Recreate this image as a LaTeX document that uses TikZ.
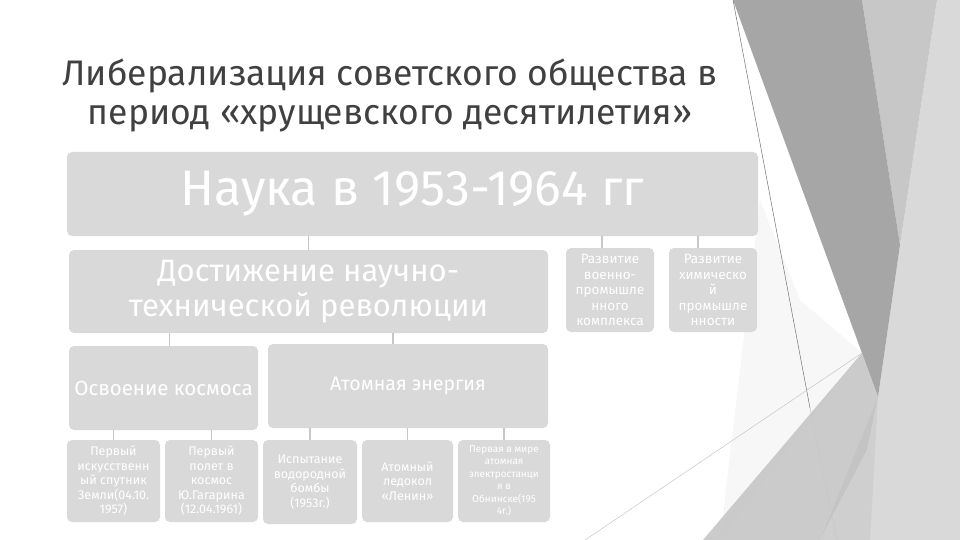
\documentclass[tikz,border=0pt]{standalone}
\usepackage{fontspec}
\setmainfont{Fira Sans}
\usetikzlibrary{calc}

\begin{document}
\begin{tikzpicture}[x=1pt, y=-1pt,
	blk/.style={fill=black!15, rounded corners=5pt, text=white, align=center, inner sep=0pt},
	link/.style={line width=1.6pt, color=black!22}]
		%%%%% START %%%%%
		\useasboundingbox (0, 0) rectangle (960, 540);
		\fill[white] (0, 0) rectangle (960, 540);
		
		% facets on the right
		\fill[color=black!15] (937, 0) -- (960, 0) -- (960, 540) -- (820, 540) -- (878, 397) -- (900, 245) -- cycle;
		\fill[color=black!22] (862, 0) -- (937, 0) -- (900, 245) -- cycle;
		\fill[color=black!3] (720, 540) -- (862, 353) -- (800, 300) -- (760, 200) -- cycle;
		\fill[color=black!35] (733, 0) -- (862, 0) -- (900, 245) -- (878, 397) -- cycle;
		\fill[color=black!25, opacity=0.8] (703, 540) -- (862, 353) -- (878, 397) -- (867, 450) -- (820, 540) -- cycle;
		\fill[color=black!19] (820, 540) -- (867, 450) -- (878, 397) -- (870, 540) -- cycle;
		\draw[line width=0.5pt, color=black!55] (733, 0) -- (810, 408);
		\draw[line width=0.5pt, color=black!22] (810, 408) -- (837, 540);
		\draw[line width=0.5pt, color=black!22] (585, 540) -- (862, 353);
		
		% title
		\node[text=black!75, align=center, font=\fontsize{35.5}{39}\selectfont] (title) at (390, 95)
			{Либерализация советского общества в\\период «хрущевского десятилетия»};
		
		% boxes
		\node[blk, minimum width=691, minimum height=84, font=\fontsize{50}{52}\selectfont] (nauka) at (412.5, 194) {Наука в 1953-1964 гг};
		\node[blk, minimum width=479, minimum height=83, font=\fontsize{31}{35}\selectfont] (ntr) at (308.5, 291.5) {Достижение научно-\\технической революции};
		\node[blk, minimum width=88, minimum height=84, font=\fontsize{13.5}{15.5}\selectfont] (voen) at (610, 290) {Развитие\\военно-\\промышле\\нного\\комплекса};
		\node[blk, minimum width=88, minimum height=84, font=\fontsize{13.5}{15.5}\selectfont] (chem) at (713, 290) {Развитие\\химическо\\й\\промышле\\нности};
		
		\node[blk, minimum width=189, minimum height=84, font=\fontsize{20.5}{24}\selectfont] (kosmos) at (163.5, 388) {Освоение космоса};
		\node[blk, minimum width=280, minimum height=84, font=\fontsize{19.5}{22}\selectfont] (atom) at (408, 386) {Атомная энергия};
		
		\node[blk, minimum width=93, minimum height=82, font=\fontsize{12.5}{14.5}\selectfont] (sputnik) at (113.5, 481) {Первый\\искусственн\\ый спутник\\Земли(04.10.\\1957)};
		\node[blk, minimum width=93, minimum height=82, font=\fontsize{12.5}{14.5}\selectfont] (gagarin) at (211.5, 481) {Первый\\полет в\\космос\\Ю.Гагарина\\(12.04.1961)};
		\node[blk, minimum width=94, minimum height=84, font=\fontsize{12.5}{14.5}\selectfont] (bomba) at (310, 482) {Испытание\\водородной\\бомбы\\(1953г.)};
		\node[blk, minimum width=91, minimum height=82, font=\fontsize{12.5}{14.5}\selectfont] (ledokol) at (407.5, 481) {Атомный\\ледокол\\«Ленин»};
		\node[blk, minimum width=92, minimum height=82, font=\fontsize{10}{12.5}\selectfont] (aes) at (504, 481) {Первая в мире\\атомная\\электростанци\\я в\\Обнинске(195\\4г.)};
		
		% connectors
		\draw[link] (nauka.south -| ntr.north) -- (ntr.north);
		\draw[link] ($(nauka.south -| voen.north)+(-8, 0)$) -- ($(voen.north)+(-8, 0)$);
		\draw[link] ($(nauka.south -| chem.north)+(-15, 0)$) -- ($(chem.north)+(-15, 0)$);
		
		\draw[link] ($(ntr.south -| kosmos.north)+(6, 0)$) -- ($(kosmos.north)+(6, 0)$);
		\draw[link] ($(ntr.south -| atom.north)+(-15, 0)$) -- ($(atom.north)+(-15, 0)$);
		
		\draw[link] (kosmos.south -| sputnik.north) -- (sputnik.north);
		\draw[link] (kosmos.south -| gagarin.north) -- (gagarin.north);
		\draw[link] (atom.south -| bomba.north) -- (bomba.north);
		\draw[link] (atom.south -| ledokol.north) -- (ledokol.north);
		\draw[link] (atom.south -| aes.north) -- (aes.north);
		
		%%%%% END %%%%%
	\end{tikzpicture}
\end{document}
